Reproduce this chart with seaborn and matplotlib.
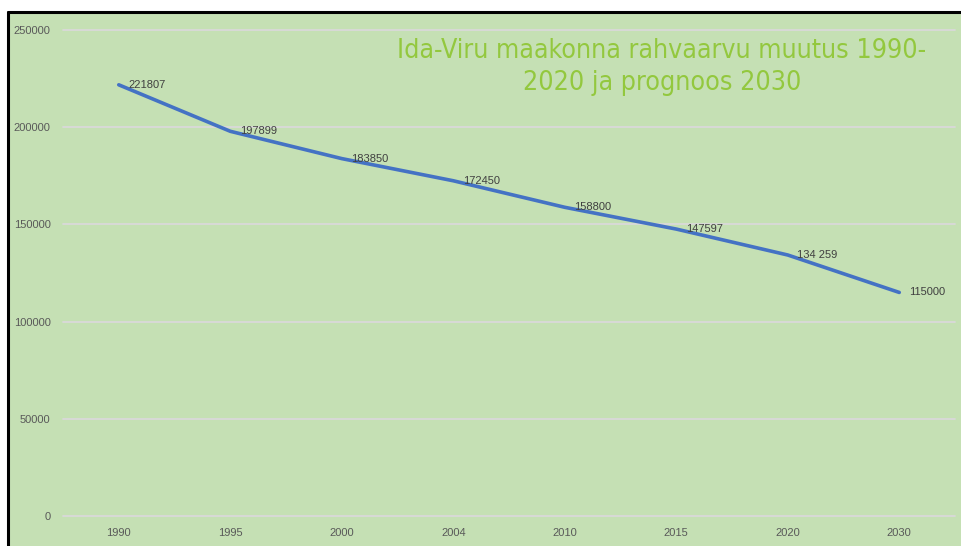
import matplotlib
matplotlib.use("Agg")
import matplotlib.pyplot as plt
from matplotlib.patches import Rectangle
from matplotlib.lines import Line2D
import seaborn as sns
import pandas as pd

years = ["1990", "1995", "2000", "2004", "2010", "2015", "2020", "2030"]
population = [221807, 197899, 183850, 172450, 158800, 147597, 134259, 115000]
value_labels = ["221807", "197899", "183850", "172450", "158800", "147597", "134 259", "115000"]
y_ticks = [0, 50000, 100000, 150000, 200000, 250000]
title_text = "Ida-Viru maakonna rahvaarvu muutus 1990-\n2020 ja prognoos 2030"

df = pd.DataFrame({"aasta": years, "rahvaarv": population})

sns.set_theme(style="white")
plt.rcParams["font.family"] = ["Liberation Sans", "DejaVu Sans"]

W, H = 961, 546
fig = plt.figure(figsize=(W / 100, H / 100), dpi=100)
fig.patch.set_facecolor("white")

green = "#C5E0B4"
# green chart area with black frame on the left and top
fig.add_artist(Rectangle((9 / W, 0), 1 - 9 / W, 1 - 13 / H, transform=fig.transFigure,
                         facecolor=green, edgecolor="none", zorder=0))
fig.add_artist(Line2D([8 / W, 1], [1 - 12 / H, 1 - 12 / H], transform=fig.transFigure,
                      color="black", lw=2.2, zorder=1))
fig.add_artist(Line2D([8 / W, 8 / W], [0, 1 - 12 / H], transform=fig.transFigure,
                      color="black", lw=2.2, zorder=1))

left, right, top, bottom = 63, 955, 30, 516
ax = fig.add_axes([left / W, (H - bottom) / H, (right - left) / W, (bottom - top) / H])
ax.set_facecolor("none")

sns.lineplot(data=df, x="aasta", y="rahvaarv", ax=ax, color="#4472C4", linewidth=2.6,
             sort=False, zorder=3)
ax.lines[0].set_solid_capstyle("round")

ax.set_xlim(-0.5, len(years) - 0.5)
ax.set_ylim(0, 250000)
ax.set_yticks(y_ticks)
ax.set_yticklabels([str(v) for v in y_ticks])
ax.yaxis.grid(True, color="#D9D9D9", linewidth=1.3)
for gl in ax.get_ygridlines():
    gl.set_clip_on(False)
ax.xaxis.grid(False)
for s in ax.spines.values():
    s.set_visible(False)
ax.tick_params(axis="both", length=0, labelsize=8, labelcolor="#595959")
ax.tick_params(axis="y", pad=9)
ax.tick_params(axis="x", pad=9)
ax.set_xlabel("")
ax.set_ylabel("")

for i, (v, lab) in enumerate(zip(population, value_labels)):
    ax.annotate(lab, (i, v), xytext=(7, 0), textcoords="offset points",
                ha="left", va="center", fontsize=8, color="#404040", zorder=4)

fig.text(662 / W, 1 - 67 / H, title_text, ha="center", va="center", fontsize=19.2,
         color="#93C83E", family="DejaVu Sans", fontstretch="condensed",
         linespacing=1.3)

fig.savefig("out.png", dpi=100)
